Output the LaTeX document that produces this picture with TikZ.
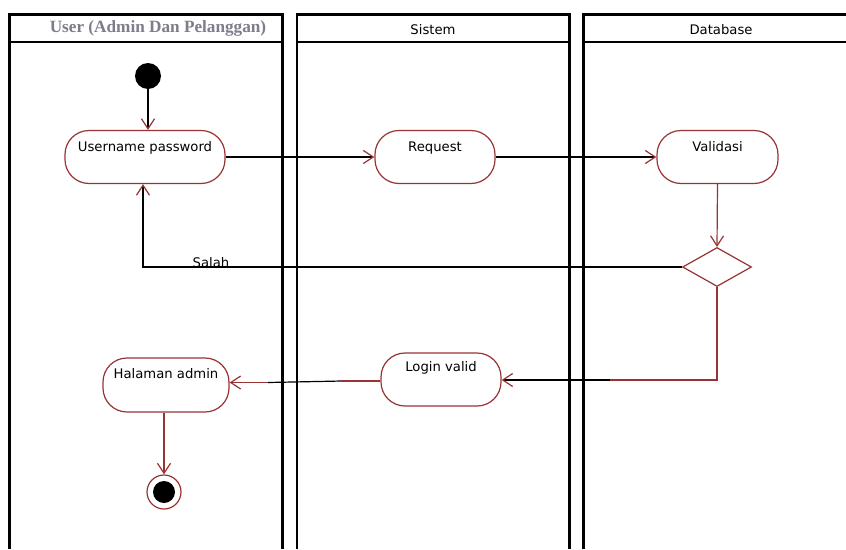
\documentclass[tikz,border=0pt]{standalone}
\usepackage{fontspec}
\setmainfont{DejaVu Sans}
\newfontfamily\hdrfont{Liberation Serif}
\usetikzlibrary{arrows.meta,shapes.geometric}
\definecolor{umlred}{RGB}{153,51,51}
\definecolor{hdrgrey}{RGB}{125,125,140}
\begin{document}
\begin{tikzpicture}[x=1pt,y=-1pt,
  lane/.style={draw=black, line width=2.7pt},
  act/.style={draw=umlred, line width=1.2pt, rounded corners=24pt, minimum height=53pt, inner sep=0pt},
  txt/.style={font=\fontsize{13.2}{15}\selectfont, anchor=base, inner sep=0pt},
  hdr/.style={font=\fontsize{13.2}{15}\selectfont, anchor=base, inner sep=0pt},
  tip/.style={-{Straight Barb[length=10pt,width=13pt,line width=1.2pt,color=umlred]}},
  blk/.style={draw=black, line width=1.2pt},
  rd/.style={draw=umlred, line width=1.2pt},
]
\useasboundingbox (0,0) rectangle (846,549);
\fill[white] (0,0) rectangle (846,549);
% swimlanes
\draw[lane] (9.5,549) -- (9.5,14.5) -- (282.8,14.5) -- (282.8,549);
\draw[lane] (9.5,42) -- (282.8,42);
\draw[lane] (297,549) -- (297,14.5) -- (569.7,14.5) -- (569.7,549);
\draw[lane] (297,42) -- (569.7,42);
\draw[lane] (583.5,549) -- (583.5,14.5) -- (846,14.5);
\draw[lane] (583.5,42) -- (846,42);
\node[hdr, font=\hdrfont\bfseries\fontsize{17.2}{19}\selectfont, text=hdrgrey] (h1) at (158,32) {User (Admin Dan Pelanggan)};
\node[hdr] (h2) at (433,34) {Sistem};
\node[hdr] (h3) at (721,34) {Database};
% nodes
\node[circle, fill=black, minimum size=26pt, inner sep=0pt] (start) at (148,76) {};
\node[act, minimum width=160pt] (up) at (145,157) {};
\node[txt] (upt) at ([yshift=-22pt]up.north) {Username password};
\node[act, minimum width=120pt] (req) at (435,157) {};
\node[txt] (reqt) at ([yshift=-22pt]req.north) {Request};
\node[act, minimum width=121pt] (val) at (717.5,157) {};
\node[txt] (valt) at ([yshift=-21.5pt]val.north) {Validasi};
\node[diamond, draw=umlred, line width=1.2pt, aspect=1.77, minimum width=69pt, minimum height=39pt, inner sep=0pt] (dia) at (717,267) {};
\node[act, minimum width=120pt] (lv) at (441,379.5) {};
\node[txt] (lvt) at ([yshift=-19.5pt]lv.north) {Login valid};
\node[act, minimum width=126pt, minimum height=54pt] (ha) at (166,385) {};
\node[txt] (hat) at ([yshift=-21pt]ha.north) {Halaman admin};
\node[circle, draw=umlred, line width=1.2pt, minimum size=34pt, inner sep=0pt] (end) at (164,492) {};
\node[circle, fill=black, minimum size=22pt, inner sep=0pt] (endin) at (end) {};
% connectors
\draw[blk, tip] (start.south) -- (start.south |- up.north);
\draw[blk, tip] (up.east) -- (req.west);
\draw[blk, tip] (req.east) -- (val.west);
\draw[rd, tip] (val.south) -- (dia.north);
\coordinate (s1) at (143,268);
\draw[blk, tip] (dia.west) -- (dia.west -| s1) -- (s1 |- up.south);
\node[txt] (salah) at (211,267) {Salah};
\coordinate (j1) at (610,380);
\draw[rd] (dia.south) |- (j1);
\draw[blk, tip] (j1) -- (lv.east |- j1);
\coordinate (j2) at (342,381);
\coordinate (j3) at (268,382.5);
\draw[rd] (lv.west |- j2) -- (j2);
\draw[blk] (j2) -- (j3);
\draw[rd, tip] (j3) -- (ha.east |- j3);
\draw[rd, tip] (end |- ha.south) -- (end.north);
\end{tikzpicture}
\end{document}
